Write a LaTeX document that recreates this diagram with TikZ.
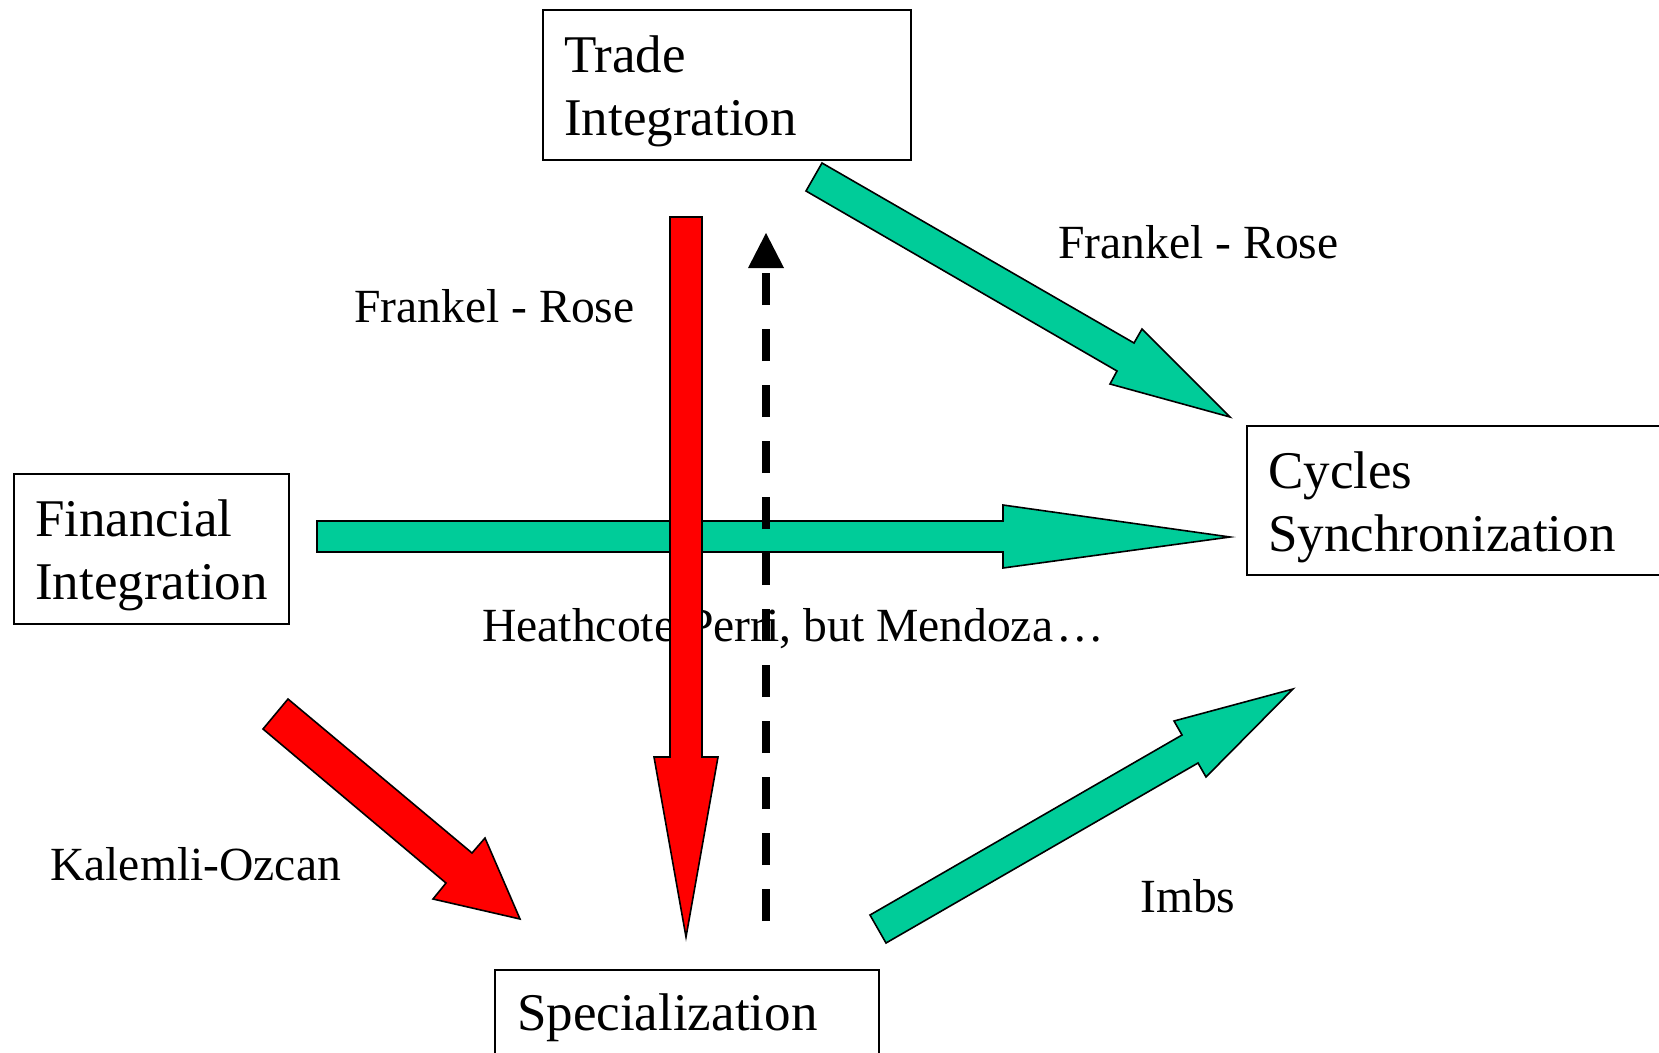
\documentclass[tikz,border=0pt]{standalone}
\usepackage{fontspec}
\setmainfont{Liberation Serif}
\definecolor{agreen}{HTML}{00CC99}
\definecolor{ared}{HTML}{FF0000}
\begin{document}
\begin{tikzpicture}[x=1pt,y=-1pt,
  box/.style={draw=black, line width=1.8pt, inner sep=0pt, anchor=north west},
  boxtext/.style={anchor=base west, inner sep=0pt, font=\fontsize{53}{63.5}\selectfont},
  lbl/.style={anchor=base west, inner sep=0pt, font=\fontsize{47.6}{57}\selectfont},
  garrow/.style={fill=agreen, draw=black, line width=1.6pt, line join=miter},
  rarrow/.style={fill=ared, draw=black, line width=1.6pt, line join=miter},
  dasharrow/.style={line width=8pt, dash pattern=on 32pt off 24pt},
]
\begin{scope}
\clip (0,0) rectangle (1659,1052);
\fill[white] (0,0) rectangle (1659,1052);

% boxes
\node[box, minimum width=368pt, minimum height=150pt] (trade) at (542,9) {};
\node[box, minimum width=275pt, minimum height=150pt] (fin) at (13,473) {};
\node[box, minimum width=450pt, minimum height=149pt] (cyc) at (1246,425) {};
\node[box, minimum width=384pt, minimum height=120pt] (spec) at (494,969) {};

% box texts
\node[boxtext] (tradeA) at (564,72) {Trade};
\node[boxtext] (tradeB) at (564,135) {Integration};
\node[boxtext] (finA) at (35,536) {Financial};
\node[boxtext] (finB) at (35,599) {Integration};
\node[boxtext] (cycA) at (1268,488) {Cycles};
\node[boxtext] (cycB) at (1268,551) {Synchronization};
\node[boxtext] (specA) at (517,1030) {Specialization};

% green block arrows
\draw[garrow] (822,163) -- (1134,343) -- (1142,329) -- (1230,417) -- (1110,384) -- (1117,371) -- (806,191) -- cycle;
\draw[garrow] (317,521) -- (1003,521) -- (1003,505) -- (1230,537) -- (1003,568) -- (1003,552) -- (317,552) -- cycle;
\draw[garrow] (870,915) -- (1182,735) -- (1174,721) -- (1293,689) -- (1206,777) -- (1198,763) -- (886,943) -- cycle;

% labels
\node[lbl] (fr1) at (1058,258) {Frankel - Rose};
\node[lbl] (fr2) at (354,322) {Frankel - Rose};
\node[lbl] (hp) at (482,641) {Heathcote Perri, but Mendoza\kern3pt…};
\node[lbl] (ko) at (50,880) {Kalemli-Ozcan};
\node[lbl] (imbs) at (1140,912) {Imbs};

% red block arrows
\draw[rarrow] (288,699) -- (472,853) -- (485,838) -- (520,919) -- (433,899) -- (446,883) -- (263,729) -- cycle;
\draw[rarrow] (670,217) -- (702,217) -- (702,757) -- (718,757) -- (686,937) -- (654,757) -- (670,757) -- cycle;

% dashed arrow
\coordinate (dbot) at (766,921);
\coordinate (dtop) at (766,273);
\draw[dasharrow] (dbot) -- (dtop);
\fill[black] (766,233) -- (784,268) -- (748,268) -- cycle;
\end{scope}
\pgfresetboundingbox
\useasboundingbox (0,0) rectangle (1659,1052);
\end{tikzpicture}
\end{document}
